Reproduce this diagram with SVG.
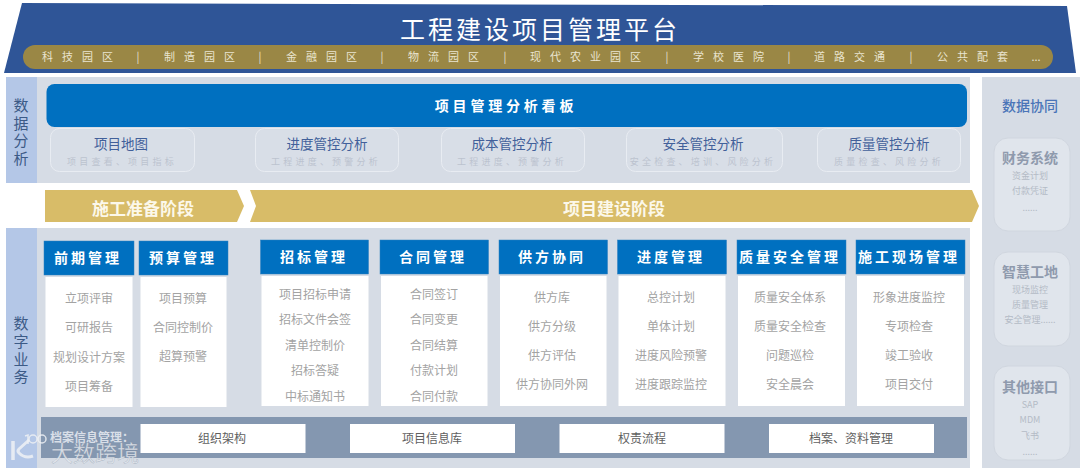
<svg xmlns="http://www.w3.org/2000/svg" width="1080" height="469" viewBox="0 0 1080 469">
<style>
text{font-family:"Noto Sans CJK SC","Liberation Sans",sans-serif;dominant-baseline:central;transform:translateY(-1px)}
.m{text-anchor:middle}
.pill{font-size:11px;fill:#e9e4d0;letter-spacing:9px}
.sep{font-size:11px;fill:#e9e4d0;text-anchor:middle}
.panel{fill:#d6dce5}
.lab{fill:#b4c7e7}
.side{font-size:15px;fill:#3c5a86;text-anchor:middle}
.sub{fill:#d8dee7;stroke:#e8ecf2;stroke-width:1}
.st{font-size:13.5px;fill:#41609a;text-anchor:middle}
.ss{font-size:9px;fill:#bcc3cf;text-anchor:middle;letter-spacing:3.2px}
.hd{fill:#0070c0;stroke:#2f7fbf;stroke-width:.5}
.ht{font-size:14px;font-weight:700;fill:#fff;text-anchor:middle;letter-spacing:3px}
.bd{fill:#fff}
.it{font-size:12px;fill:#a3a3a3;text-anchor:middle}
.bt{fill:#fff}
.btt{font-size:12px;fill:#5f5f5f;text-anchor:middle}
.ph{fill:#d8bc68}
.pt{font-size:17px;font-weight:700;fill:#fcf8ea;text-anchor:middle}
.card{fill:#e0e5ec;stroke:#d0d6df;stroke-width:1}
.ct{font-size:14px;font-weight:700;fill:#8f9aad;text-anchor:middle}
.cs{font-size:9px;fill:#b4bbc6;text-anchor:middle}
</style>

<g id="banner">
<polygon points="22,3 1067,6 1076,73 4,73" fill="#2f5597"/>
<rect x="23" y="45" width="1030" height="24" rx="12" fill="#9a8745"/>
<text x="540" y="29" class="m" font-size="25" fill="#fff" letter-spacing="3">工程建设项目管理平台</text>
<text x="42" y="57" class="pill">科技园区</text><text x="138" y="57" class="sep">|</text>
<text x="164" y="57" class="pill">制造园区</text><text x="260" y="57" class="sep">|</text>
<text x="286" y="57" class="pill">金融园区</text><text x="382" y="57" class="sep">|</text>
<text x="408" y="57" class="pill">物流园区</text><text x="505" y="57" class="sep">|</text>
<text x="530" y="57" class="pill">现代农业园区</text><text x="667" y="57" class="sep">|</text>
<text x="693" y="57" class="pill">学校医院</text><text x="789" y="57" class="sep">|</text>
<text x="814" y="57" class="pill">道路交通</text><text x="911" y="57" class="sep">|</text>
<text x="937" y="57" class="pill">公共配套</text><text x="1036" y="57" class="sep">...</text>
</g>

<g id="data-analysis">
<rect x="6" y="77" width="31" height="106" class="lab"/>
<rect x="37" y="77" width="933" height="106" class="panel"/>
<text x="21" y="105" class="side">数</text><text x="21" y="123" class="side">据</text><text x="21" y="140" class="side">分</text><text x="21" y="158" class="side">析</text>
<rect x="46.500" y="84" width="920.500" height="43" rx="8" fill="#0070c0"/>
<text x="506" y="106" class="ht" style="letter-spacing:3.8px">项目管理分析看板</text>
</g>
<g id="sub-map"><rect x="50.500" y="128.500" width="144" height="43" rx="9" class="sub"/><text x="121" y="144" class="st">项目地图</text><text x="122" y="162" class="ss">项目查看、项目指标</text></g>
<g id="sub-progress"><rect x="255.500" y="128.500" width="143" height="43" rx="9" class="sub"/><text x="327" y="144" class="st">进度管控分析</text><text x="326" y="162" class="ss">工程进度、预警分析</text></g>
<g id="sub-cost"><rect x="441.500" y="128.500" width="143" height="43" rx="9" class="sub"/><text x="512" y="144" class="st">成本管控分析</text><text x="512" y="162" class="ss">工程进度、预警分析</text></g>
<g id="sub-safety"><rect x="626.500" y="128.500" width="156" height="43" rx="9" class="sub"/><text x="703" y="144" class="st">安全管控分析</text><text x="703" y="162" class="ss">安全检查、培训、风险分析</text></g>
<g id="sub-quality"><rect x="817.500" y="128.500" width="143" height="43" rx="9" class="sub"/><text x="889" y="144" class="st">质量管控分析</text><text x="889" y="162" class="ss">质量检查、风险分析</text></g>

<g id="phases">
<polygon points="45,190 237,190 244,206 237,222 45,222" class="ph"/>
<text x="143" y="208" class="pt">施工准备阶段</text>
<polygon points="250,190 972,190 979,206 972,222 250,222 256,206" class="ph"/>
<text x="614" y="208" class="pt">项目建设阶段</text>
</g>

<g id="digital-business">
<rect x="6" y="228" width="31" height="240" class="lab"/>
<rect x="37" y="228" width="933" height="240" class="panel"/>
<text x="21" y="323" class="side">数</text><text x="21" y="341" class="side">字</text><text x="21" y="359" class="side">业</text><text x="21" y="376" class="side">务</text>
</g>

<g id="col-1"><rect x="44" y="241" width="90" height="34" class="hd"/><rect x="45.500" y="277" width="87" height="130" class="bd"/>
<text x="88" y="258" class="ht">前期管理</text>
<text x="89" y="298" class="it">立项评审</text><text x="89" y="327" class="it">可研报告</text><text x="89" y="357" class="it">规划设计方案</text><text x="89" y="386" class="it">项目筹备</text></g>
<g id="col-2"><rect x="139" y="241" width="89" height="34" class="hd"/><rect x="140.500" y="277" width="86" height="130" class="bd"/>
<text x="183" y="258" class="ht">预算管理</text>
<text x="183" y="298" class="it">项目预算</text><text x="183" y="327" class="it">合同控制价</text><text x="183" y="356" class="it">超算预警</text></g>
<g id="col-3"><rect x="260.500" y="240" width="108" height="34" class="hd"/><rect x="261.500" y="276" width="107" height="130" class="bd"/>
<text x="314" y="257" class="ht">招标管理</text>
<text x="315" y="294" class="it">项目招标申请</text><text x="315" y="319" class="it">招标文件会签</text><text x="315" y="345" class="it">清单控制价</text><text x="315" y="370" class="it">招标答疑</text><text x="315" y="396" class="it">中标通知书</text></g>
<g id="col-4"><rect x="380" y="240" width="108.500" height="34" class="hd"/><rect x="381" y="276" width="106.500" height="130" class="bd"/>
<text x="433" y="257" class="ht">合同管理</text>
<text x="434" y="294" class="it">合同签订</text><text x="434" y="319" class="it">合同变更</text><text x="434" y="345" class="it">合同结算</text><text x="434" y="370" class="it">付款计划</text><text x="434" y="396" class="it">合同付款</text></g>
<g id="col-5"><rect x="499" y="240" width="108.500" height="34" class="hd"/><rect x="500" y="276" width="106.500" height="130" class="bd"/>
<text x="552" y="257" class="ht">供方协同</text>
<text x="552" y="297" class="it">供方库</text><text x="552" y="326" class="it">供方分级</text><text x="552" y="355" class="it">供方评估</text><text x="552" y="384" class="it">供方协同外网</text></g>
<g id="col-6"><rect x="617.500" y="240" width="109" height="34" class="hd"/><rect x="618.500" y="276" width="107" height="130" class="bd"/>
<text x="671" y="257" class="ht">进度管理</text>
<text x="671" y="297" class="it">总控计划</text><text x="671" y="326" class="it">单体计划</text><text x="671" y="355" class="it">进度风险预警</text><text x="671" y="384" class="it">进度跟踪监控</text></g>
<g id="col-7"><rect x="737" y="240" width="109" height="34" class="hd"/><rect x="738" y="276" width="107" height="130" class="bd"/>
<text x="790" y="257" class="ht">质量安全管理</text>
<text x="790" y="297" class="it">质量安全体系</text><text x="790" y="326" class="it">质量安全检查</text><text x="790" y="355" class="it">问题巡检</text><text x="790" y="384" class="it">安全晨会</text></g>
<g id="col-8"><rect x="856" y="240" width="109" height="34" class="hd"/><rect x="857" y="276" width="107" height="130" class="bd"/>
<text x="909" y="257" class="ht">施工现场管理</text>
<text x="909" y="297" class="it">形象进度监控</text><text x="909" y="326" class="it">专项检查</text><text x="909" y="355" class="it">竣工验收</text><text x="909" y="384" class="it">项目交付</text></g>

<g id="archive">
<rect x="41" y="417" width="926" height="41" fill="#8497b0"/>
<text x="50" y="437" font-size="12" font-weight="700" fill="#d9dfe8">档案信息管理：</text>
<rect x="140.500" y="424" width="165" height="29" class="bt"/><text x="222" y="438" class="btt">组织架构</text>
<rect x="350" y="424" width="165" height="29" class="bt"/><text x="432" y="438" class="btt">项目信息库</text>
<rect x="559.500" y="424" width="165" height="29" class="bt"/><text x="642" y="438" class="btt">权责流程</text>
<rect x="769" y="424" width="165" height="29" class="bt"/><text x="851" y="438" class="btt">档案、资料管理</text>
</g>

<g id="data-sync">
<rect x="982" y="77" width="98" height="391" class="panel"/>
<text x="1030" y="106" class="m" font-size="14" font-weight="500" fill="#4a74b8">数据协同</text>
</g>
<g id="card-finance"><rect x="994" y="138" width="76" height="93" rx="14" class="card"/>
<text x="1030" y="158" class="ct">财务系统</text><text x="1030" y="176" class="cs">资金计划</text><text x="1030" y="191" class="cs">付款凭证</text><text x="1030" y="208" class="cs">......</text></g>
<g id="card-site"><rect x="994" y="252" width="76" height="94" rx="14" class="card"/>
<text x="1030" y="272" class="ct">智慧工地</text><text x="1030" y="290" class="cs">现场监控</text><text x="1030" y="305" class="cs">质量管理</text><text x="1030" y="320" class="cs">安全管理......</text></g>
<g id="card-other"><rect x="994" y="366" width="76" height="94" rx="14" class="card"/>
<text x="1030" y="387" class="ct">其他接口</text><text x="1030" y="405" class="cs">SAP</text><text x="1030" y="420" class="cs">MDM</text><text x="1030" y="436" class="cs">飞书</text><text x="1030" y="452" class="cs">......</text></g>

<g id="watermark" fill="none" stroke="#eef1f5" stroke-opacity=".85">
<path d="M13 441v19" stroke-width="3.500"/>
<path d="M29 440l-10 9q-2 2 0 4q6 6 14 3" stroke-width="3"/>
<path d="M25 436l3-1v9" stroke-width="1.500"/>
<circle cx="33" cy="439" r="4" stroke-width="1.500"/><circle cx="42" cy="439" r="4" stroke-width="1.500"/>
<text x="51" y="452" font-size="22" fill="#e4e8ee" fill-opacity=".85" stroke="#6f7f95" stroke-width=".4" stroke-opacity=".5">大数跨境</text>
</g>
</svg>
